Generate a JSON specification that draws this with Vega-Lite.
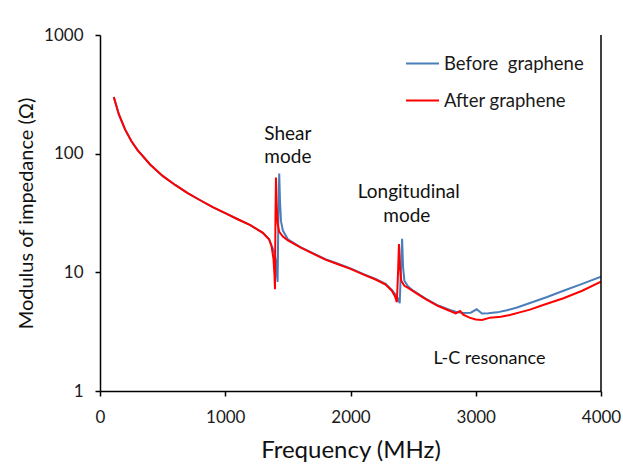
{
  "$schema": "https://vega.github.io/schema/vega-lite/v6.json",
  "width": 501,
  "height": 356,
  "autosize": {"type": "none"},
  "padding": {"left": 100, "top": 35, "right": 22, "bottom": 73},
  "background": "white",
  "config": {
    "view": {"stroke": null},
    "font": "Lato",
    "axis": {
      "domainColor": "#000000",
      "domainWidth": 1.5,
      "tickColor": "#000000",
      "tickWidth": 1.5,
      "tickSize": 5,
      "grid": false,
      "labelFont": "Lato",
      "labelFontSize": 17,
      "labelColor": "#1a1a1a",
      "titleFont": "Lato",
      "titleFontWeight": "normal",
      "titleColor": "#111111"
    }
  },
  "datasets": {
    "before": [
      {"s": "Before\u00a0 graphene", "f": 110, "z": 300},
      {"s": "Before\u00a0 graphene", "f": 150, "z": 215},
      {"s": "Before\u00a0 graphene", "f": 200, "z": 160},
      {"s": "Before\u00a0 graphene", "f": 250, "z": 128},
      {"s": "Before\u00a0 graphene", "f": 300, "z": 107},
      {"s": "Before\u00a0 graphene", "f": 400, "z": 81},
      {"s": "Before\u00a0 graphene", "f": 500, "z": 65},
      {"s": "Before\u00a0 graphene", "f": 600, "z": 54.5},
      {"s": "Before\u00a0 graphene", "f": 700, "z": 46.5},
      {"s": "Before\u00a0 graphene", "f": 800, "z": 40.5},
      {"s": "Before\u00a0 graphene", "f": 900, "z": 35.5},
      {"s": "Before\u00a0 graphene", "f": 1000, "z": 31.5},
      {"s": "Before\u00a0 graphene", "f": 1100, "z": 28},
      {"s": "Before\u00a0 graphene", "f": 1200, "z": 25},
      {"s": "Before\u00a0 graphene", "f": 1300, "z": 21.5},
      {"s": "Before\u00a0 graphene", "f": 1350, "z": 19},
      {"s": "Before\u00a0 graphene", "f": 1370, "z": 16.8},
      {"s": "Before\u00a0 graphene", "f": 1390, "z": 15},
      {"s": "Before\u00a0 graphene", "f": 1405, "z": 12.5},
      {"s": "Before\u00a0 graphene", "f": 1413, "z": 9.5},
      {"s": "Before\u00a0 graphene", "f": 1418, "z": 8.3},
      {"s": "Before\u00a0 graphene", "f": 1425, "z": 35},
      {"s": "Before\u00a0 graphene", "f": 1431, "z": 68},
      {"s": "Before\u00a0 graphene", "f": 1437, "z": 40},
      {"s": "Before\u00a0 graphene", "f": 1445, "z": 27},
      {"s": "Before\u00a0 graphene", "f": 1460, "z": 22.5},
      {"s": "Before\u00a0 graphene", "f": 1500, "z": 19},
      {"s": "Before\u00a0 graphene", "f": 1600, "z": 16.3},
      {"s": "Before\u00a0 graphene", "f": 1700, "z": 14.5},
      {"s": "Before\u00a0 graphene", "f": 1800, "z": 12.9},
      {"s": "Before\u00a0 graphene", "f": 1900, "z": 11.8},
      {"s": "Before\u00a0 graphene", "f": 2000, "z": 10.8},
      {"s": "Before\u00a0 graphene", "f": 2100, "z": 9.7},
      {"s": "Before\u00a0 graphene", "f": 2200, "z": 8.8},
      {"s": "Before\u00a0 graphene", "f": 2280, "z": 8},
      {"s": "Before\u00a0 graphene", "f": 2330, "z": 7.1},
      {"s": "Before\u00a0 graphene", "f": 2355, "z": 6.6},
      {"s": "Before\u00a0 graphene", "f": 2380, "z": 6},
      {"s": "Before\u00a0 graphene", "f": 2393, "z": 5.5},
      {"s": "Before\u00a0 graphene", "f": 2402, "z": 10},
      {"s": "Before\u00a0 graphene", "f": 2412, "z": 19.2},
      {"s": "Before\u00a0 graphene", "f": 2420, "z": 11},
      {"s": "Before\u00a0 graphene", "f": 2430, "z": 8.5},
      {"s": "Before\u00a0 graphene", "f": 2460, "z": 7.6},
      {"s": "Before\u00a0 graphene", "f": 2500, "z": 7.0},
      {"s": "Before\u00a0 graphene", "f": 2600, "z": 6.0},
      {"s": "Before\u00a0 graphene", "f": 2700, "z": 5.25},
      {"s": "Before\u00a0 graphene", "f": 2800, "z": 4.8},
      {"s": "Before\u00a0 graphene", "f": 2840, "z": 4.65},
      {"s": "Before\u00a0 graphene", "f": 2900, "z": 4.55},
      {"s": "Before\u00a0 graphene", "f": 2960, "z": 4.57},
      {"s": "Before\u00a0 graphene", "f": 3007, "z": 4.88},
      {"s": "Before\u00a0 graphene", "f": 3050, "z": 4.5},
      {"s": "Before\u00a0 graphene", "f": 3100, "z": 4.52},
      {"s": "Before\u00a0 graphene", "f": 3170, "z": 4.6},
      {"s": "Before\u00a0 graphene", "f": 3250, "z": 4.8},
      {"s": "Before\u00a0 graphene", "f": 3330, "z": 5.05},
      {"s": "Before\u00a0 graphene", "f": 3450, "z": 5.6},
      {"s": "Before\u00a0 graphene", "f": 3570, "z": 6.2},
      {"s": "Before\u00a0 graphene", "f": 3700, "z": 7.0},
      {"s": "Before\u00a0 graphene", "f": 3850, "z": 8.0},
      {"s": "Before\u00a0 graphene", "f": 4000, "z": 9.2}
    ],
    "after": [
      {"s": "After graphene", "f": 110, "z": 300},
      {"s": "After graphene", "f": 150, "z": 215},
      {"s": "After graphene", "f": 200, "z": 160},
      {"s": "After graphene", "f": 250, "z": 128},
      {"s": "After graphene", "f": 300, "z": 107},
      {"s": "After graphene", "f": 400, "z": 81},
      {"s": "After graphene", "f": 500, "z": 65},
      {"s": "After graphene", "f": 600, "z": 54.5},
      {"s": "After graphene", "f": 700, "z": 46.5},
      {"s": "After graphene", "f": 800, "z": 40.5},
      {"s": "After graphene", "f": 900, "z": 35.5},
      {"s": "After graphene", "f": 1000, "z": 31.5},
      {"s": "After graphene", "f": 1100, "z": 28},
      {"s": "After graphene", "f": 1200, "z": 25},
      {"s": "After graphene", "f": 1300, "z": 21.5},
      {"s": "After graphene", "f": 1350, "z": 19},
      {"s": "After graphene", "f": 1370, "z": 16.5},
      {"s": "After graphene", "f": 1385, "z": 13},
      {"s": "After graphene", "f": 1393, "z": 9.5},
      {"s": "After graphene", "f": 1397, "z": 7.2},
      {"s": "After graphene", "f": 1401, "z": 30},
      {"s": "After graphene", "f": 1405, "z": 63},
      {"s": "After graphene", "f": 1410, "z": 38},
      {"s": "After graphene", "f": 1418, "z": 26},
      {"s": "After graphene", "f": 1430, "z": 22},
      {"s": "After graphene", "f": 1460, "z": 20},
      {"s": "After graphene", "f": 1500, "z": 18.6},
      {"s": "After graphene", "f": 1600, "z": 16.2},
      {"s": "After graphene", "f": 1700, "z": 14.4},
      {"s": "After graphene", "f": 1800, "z": 12.8},
      {"s": "After graphene", "f": 1900, "z": 11.7},
      {"s": "After graphene", "f": 2000, "z": 10.7},
      {"s": "After graphene", "f": 2100, "z": 9.6},
      {"s": "After graphene", "f": 2200, "z": 8.7},
      {"s": "After graphene", "f": 2280, "z": 7.9},
      {"s": "After graphene", "f": 2330, "z": 7.0},
      {"s": "After graphene", "f": 2355, "z": 6.3},
      {"s": "After graphene", "f": 2370, "z": 5.6},
      {"s": "After graphene", "f": 2378, "z": 9},
      {"s": "After graphene", "f": 2387, "z": 17.3},
      {"s": "After graphene", "f": 2395, "z": 11},
      {"s": "After graphene", "f": 2405, "z": 8.5},
      {"s": "After graphene", "f": 2430, "z": 7.7},
      {"s": "After graphene", "f": 2470, "z": 7.3},
      {"s": "After graphene", "f": 2500, "z": 6.95},
      {"s": "After graphene", "f": 2600, "z": 5.95},
      {"s": "After graphene", "f": 2700, "z": 5.2},
      {"s": "After graphene", "f": 2800, "z": 4.7},
      {"s": "After graphene", "f": 2840, "z": 4.5},
      {"s": "After graphene", "f": 2875, "z": 4.72},
      {"s": "After graphene", "f": 2900, "z": 4.4},
      {"s": "After graphene", "f": 2950, "z": 4.15},
      {"s": "After graphene", "f": 3000, "z": 4.0},
      {"s": "After graphene", "f": 3050, "z": 3.97},
      {"s": "After graphene", "f": 3114, "z": 4.15},
      {"s": "After graphene", "f": 3200, "z": 4.22},
      {"s": "After graphene", "f": 3273, "z": 4.37},
      {"s": "After graphene", "f": 3350, "z": 4.6},
      {"s": "After graphene", "f": 3433, "z": 4.85},
      {"s": "After graphene", "f": 3550, "z": 5.35},
      {"s": "After graphene", "f": 3700, "z": 6.05},
      {"s": "After graphene", "f": 3850, "z": 7.0},
      {"s": "After graphene", "f": 4000, "z": 8.35}
    ],
    "labels": [
      {"f": 1500, "z": 130, "t": "Shear", "size": 19},
      {"f": 1500, "z": 83.5, "t": "mode", "size": 19},
      {"f": 2465, "z": 42.3, "t": "Longitudinal", "size": 19},
      {"f": 2450, "z": 26.5, "t": "mode", "size": 19},
      {"f": 3110, "z": 1.69, "t": "L-C resonance", "size": 18}
    ],
    "border": [{"f": 4000}]
  },
  "layer": [
    {
      "data": {"name": "before"},
      "mark": {"type": "line", "strokeWidth": 2, "clip": true},
      "encoding": {
        "x": {
          "field": "f", "type": "quantitative",
          "scale": {"domain": [0, 4000], "nice": false},
          "axis": {"values": [0, 1000, 2000, 3000, 4000], "title": "Frequency (MHz)", "titleFontSize": 24, "titlePadding": 13, "labelPadding": 13, "format": "d", "labelFlush": false}
        },
        "y": {
          "field": "z", "type": "quantitative",
          "scale": {"type": "log", "domain": [1, 1000], "nice": false},
          "axis": {"values": [1, 10, 100, 1000], "format": "d", "title": "Modulus of impedance (Ω)", "titleFontSize": 20, "titlePadding": 7, "labelPadding": 12}
        },
        "color": {
          "field": "s", "type": "nominal",
          "scale": {"domain": ["Before\u00a0 graphene", "After graphene"], "range": ["#4a7ebb", "#ff0000"]},
          "legend": {
            "title": null, "orient": "none", "legendX": 305, "legendY": 11,
            "symbolType": "stroke", "symbolSize": 1089, "symbolStrokeWidth": 2,
            "labelFontSize": 18.5, "labelFont": "Lato", "labelColor": "#1a1a1a",
            "labelOffset": 4, "rowPadding": 10
          }
        }
      }
    },
    {
      "data": {"name": "after"},
      "mark": {"type": "line", "strokeWidth": 2, "clip": true},
      "encoding": {
        "x": {"field": "f", "type": "quantitative"},
        "y": {"field": "z", "type": "quantitative"},
        "color": {"field": "s", "type": "nominal"}
      }
    },
    {
      "data": {"name": "border"},
      "mark": {"type": "rule", "color": "#000000", "strokeWidth": 1.5},
      "encoding": {"x": {"field": "f", "type": "quantitative"}}
    },
    {
      "data": {"name": "labels"},
      "mark": {"type": "text", "align": "center", "baseline": "alphabetic", "font": "Lato", "color": "#111111"},
      "encoding": {
        "x": {"field": "f", "type": "quantitative"},
        "y": {"field": "z", "type": "quantitative"},
        "text": {"field": "t"},
        "size": {"field": "size", "type": "quantitative", "scale": null}
      }
    }
  ]
}
